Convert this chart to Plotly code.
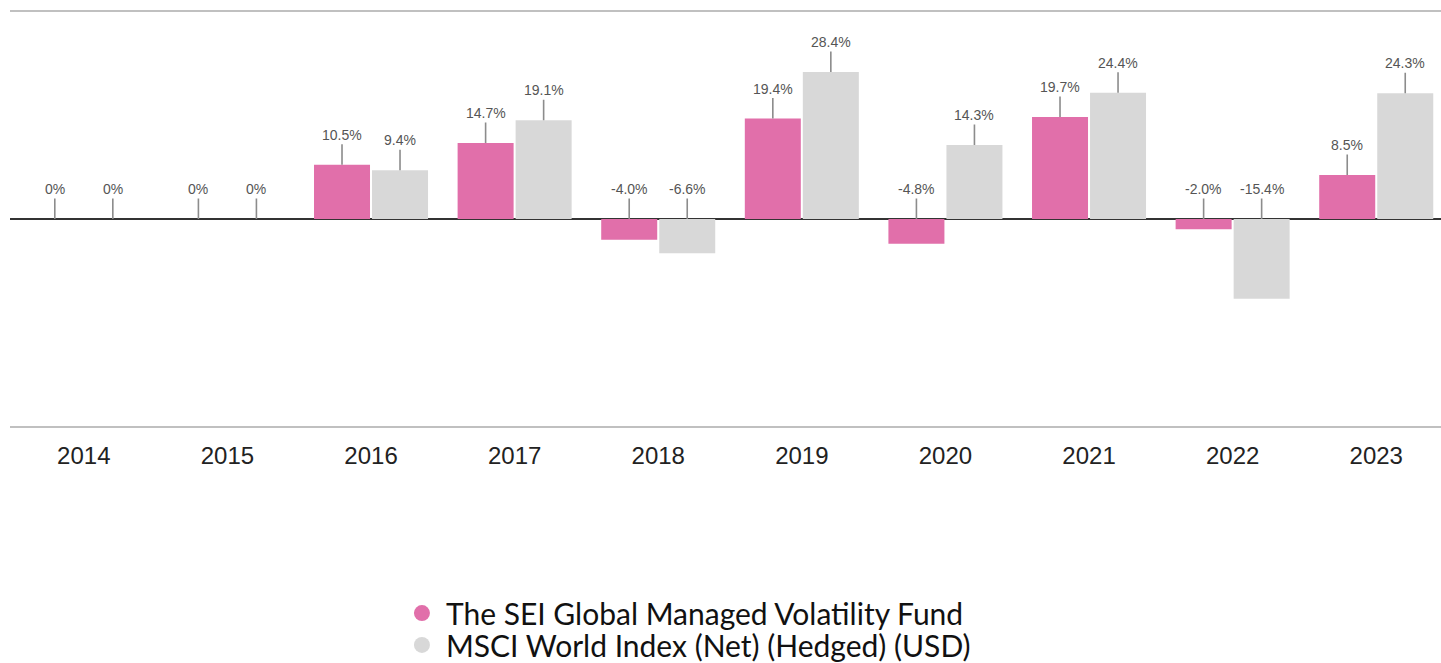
import plotly.graph_objects as go

years = ["2014", "2015", "2016", "2017", "2018", "2019", "2020", "2021", "2022", "2023"]
fund = [0, 0, 10.5, 14.7, -4.0, 19.4, -4.8, 19.7, -2.0, 8.5]
index = [0, 0, 9.4, 19.1, -6.6, 28.4, 14.3, 24.4, -15.4, 24.3]
fund_name = "The SEI Global Managed Volatility Fund"
index_name = "MSCI World Index (Net) (Hedged) (USD)"

PINK = "#E16FAA"
GREY = "#D8D8D8"

xs = list(range(len(years)))
bw = 0.39
off_f = -0.397
off_i = 0.007

fig = go.Figure()
fig.add_bar(x=xs, y=fund, width=bw, offset=off_f, marker=dict(color=PINK, line=dict(width=0)),
            showlegend=False, hoverinfo="skip")
fig.add_bar(x=xs, y=index, width=bw, offset=off_i, marker=dict(color=GREY, line=dict(width=0)),
            showlegend=False, hoverinfo="skip")
fig.add_scatter(x=[None], y=[None], mode="markers", name=fund_name, legend="legend",
                marker=dict(color=PINK, size=20, symbol="circle"))
fig.add_scatter(x=[None], y=[None], mode="markers", name=index_name, legend="legend2",
                marker=dict(color=GREY, size=20, symbol="circle"))

def fmt(v):
    return "0%" if v == 0 else f"{v:.1f}%"

for vals, off in ((fund, off_f), (index, off_i)):
    for i, v in enumerate(vals):
        fig.add_annotation(x=i + off + bw / 2, y=max(v, 0), text=fmt(v), showarrow=True,
                           arrowhead=0, arrowwidth=1.6, arrowcolor="#8c8c8c", ax=0, ay=-30,
                           standoff=0, font=dict(family="Arial", size=14, color="#555555"))

leg_font = dict(family="Lato", size=30, color="#111111")
fig.update_layout(
    width=1441, height=663,
    margin=dict(l=10, r=0, t=12, b=237, autoexpand=False),
    plot_bgcolor="white", paper_bgcolor="white",
    barmode="overlay",
    legend=dict(x=0.2711, xanchor="left", y=-0.389, yanchor="top", font=leg_font,
                bgcolor="rgba(0,0,0,0)", itemwidth=38),
    legend2=dict(x=0.2711, xanchor="left", y=-0.466, yanchor="top", font=leg_font,
                 bgcolor="rgba(0,0,0,0)", itemwidth=38),
    xaxis=dict(range=[-0.514, 9.451], tickmode="array", tickvals=xs, ticktext=years,
               showgrid=False, zeroline=False, showline=True, mirror=True,
               linecolor="#c0c0c0", linewidth=2, ticks="", ticklabelstandoff=7,
               tickfont=dict(family="Arial", size=24, color="#222222")),
    yaxis=dict(range=[-40, 40], showgrid=False, showticklabels=False, showline=False,
               zeroline=True, zerolinecolor="#333333", zerolinewidth=2),
)

fig.write_html("out.html", config={"displayModeBar": False},
               post_script="document.body.style.margin='0';document.body.style.overflow='hidden';")
